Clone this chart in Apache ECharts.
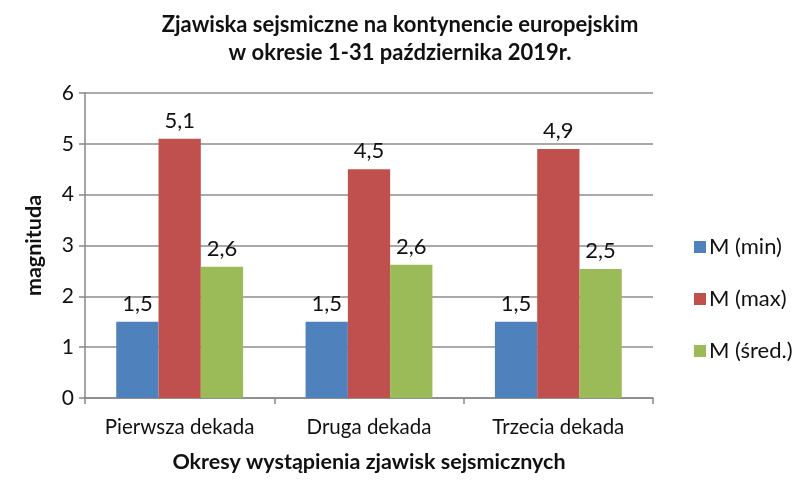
<!DOCTYPE html>
<html>
<head>
<meta charset="utf-8">
<script src="https://cdn.jsdelivr.net/npm/echarts@6/dist/echarts.min.js"></script>
<style>html,body{margin:0;padding:0;background:#fff}#c{width:800px;height:481px}</style>
</head>
<body>
<div id="c"></div>
<script>
var categories = ['Pierwsza dekada', 'Druga dekada', 'Trzecia dekada'];
var mMin = [1.5, 1.5, 1.5];
var mMax = [5.1, 4.5, 4.9];
var mSred = [2.58, 2.62, 2.54];
var yTicks = [0, 1, 2, 3, 4, 5, 6];

var FONT = 'Lato';
function fmt(p) { return p.value.toFixed(1).replace('.', ','); }
function ser(name, data, color) {
  return {
    name: name, type: 'bar', data: data, barGap: '0%', barCategoryGap: '33%',
    itemStyle: { color: color },
    label: { show: true, position: 'top', distance: 7, formatter: fmt,
      fontFamily: FONT, fontSize: 22, color: '#111' }
  };
}
var chart = echarts.init(document.getElementById('c'), null, { renderer: 'canvas' });
chart.setOption({
  animation: false,
  title: {
    text: 'Zjawiska sejsmiczne na kontynencie europejskim\nw okresie 1-31 października 2019r.',
    left: 'center', top: 6,
    textStyle: { fontFamily: FONT, fontWeight: 'bold', fontSize: 22, lineHeight: 28, color: '#111' }
  },
  legend: {
    orient: 'vertical', left: 689, top: 231, itemGap: 30,
    itemWidth: 12, itemHeight: 12, icon: 'rect',
    textStyle: { fontFamily: FONT, fontSize: 22, color: '#111', padding: [0, 0, 0, -2] },
    data: ['M (min)', 'M (max)', 'M (śred.)']
  },
  grid: { left: 85, right: 147, top: 93, bottom: 83 },
  xAxis: {
    type: 'category', data: categories,
    name: 'Okresy wystąpienia zjawisk sejsmicznych', nameLocation: 'middle', nameGap: 53,
    nameTextStyle: { fontFamily: FONT, fontWeight: 'bold', fontSize: 21.5, color: '#111' },
    axisLine: { lineStyle: { color: '#888', width: 1.5 } },
    axisTick: { show: true, length: 6, interval: 0, lineStyle: { color: '#888', width: 1.5 } },
    axisLabel: { fontFamily: FONT, fontSize: 20.5, color: '#111', margin: 19, interval: 0, hideOverlap: false }
  },
  yAxis: {
    type: 'value', min: yTicks[0], max: yTicks[yTicks.length - 1], interval: 1,
    name: 'magnituda', nameLocation: 'middle', nameGap: 40, nameRotate: 90,
    nameTextStyle: { fontFamily: FONT, fontWeight: 'bold', fontSize: 21.5, color: '#111' },
    axisLine: { show: true, lineStyle: { color: '#888', width: 1.5 } },
    axisTick: { show: true, length: 6, lineStyle: { color: '#888', width: 1.5 } },
    splitLine: { lineStyle: { color: '#8c8c8c', width: 1.5 } },
    axisLabel: { fontFamily: FONT, fontSize: 21, color: '#111', margin: 11 }
  },
  series: [
    ser('M (min)', mMin, '#4f81bd'),
    ser('M (max)', mMax, '#c0504d'),
    ser('M (śred.)', mSred, '#9bbb59')
  ]
});
</script>
</body>
</html>
